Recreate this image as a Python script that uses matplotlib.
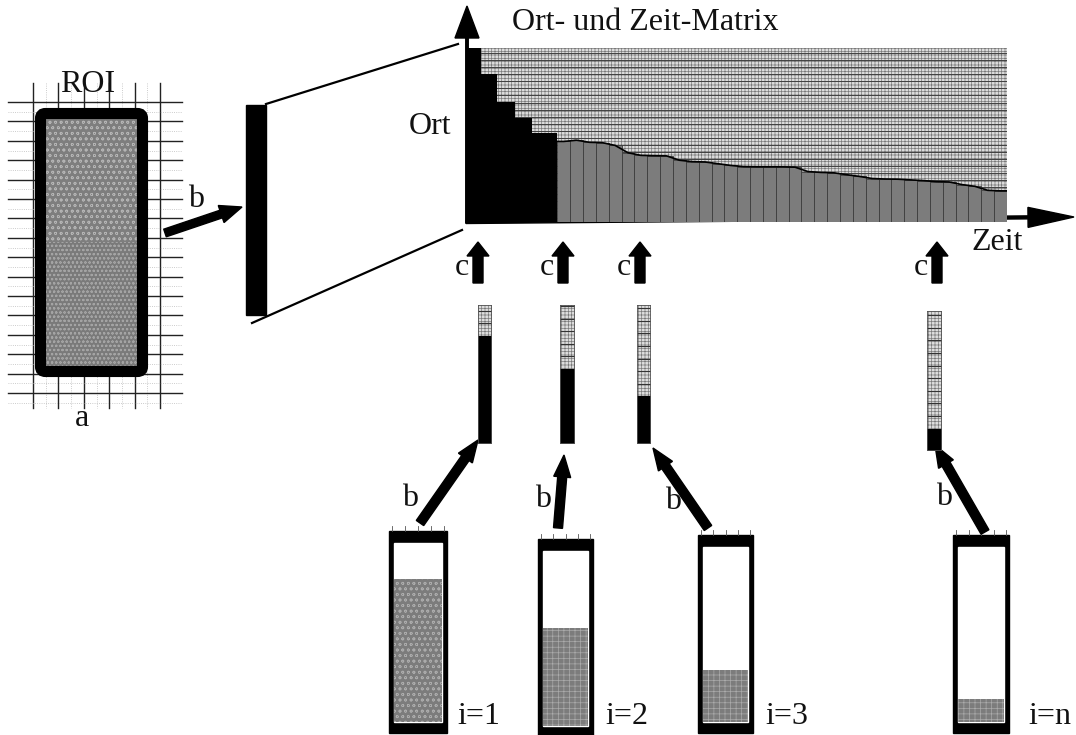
# Ort- und Zeit-Matrix diagram (ROI -> profile columns -> matrix)
import numpy as np
import matplotlib.pyplot as plt
from matplotlib.patches import Rectangle, FancyArrow, FancyBboxPatch

plt.rcParams['font.family'] = ['Liberation Serif', 'DejaVu Serif']
plt.rcParams['hatch.linewidth'] = 0.5

W, H = 1076, 735

# matrix: black staircase at the start, then grey time columns (fraction of Ort axis filled)
stair_widths = [1.17, 1.25, 1.41, 1.33, 1.95]
stair_levels = [1.0, 0.85, 0.69, 0.60, 0.51]
grey_levels = [0.463, 0.470, 0.458, 0.456, 0.440, 0.398, 0.383, 0.381, 0.380,
               0.355, 0.347, 0.345, 0.335, 0.325, 0.318, 0.317, 0.317, 0.317,
               0.315, 0.290, 0.285, 0.283, 0.272, 0.262, 0.250, 0.247, 0.246,
               0.242, 0.238, 0.232, 0.230, 0.215, 0.205, 0.182, 0.179]

# single profile columns (black part) and the tubes i=1..n (fill level)
column_levels = [0.78, 0.54, 0.345, 0.16]
tube_levels = [0.80, 0.56, 0.30, 0.13]
tube_labels = ['i=1', 'i=2', 'i=3', 'i=n']

# layout (pixel boxes x0, y0, x1, y1)
column_boxes = [(478, 305, 492, 444), (560, 305, 575, 444),
                (637, 305, 651, 444), (927, 311, 942, 451)]
tube_boxes = [(389, 531, 447, 733), (538, 539, 593, 737),
              (698, 535, 753, 733), (953, 535, 1009, 733)]
tube_label_x = [457, 605, 765, 1028]
b_arrows = [((420, 523), (478, 440)), ((558, 528), (564, 455)),
            ((708, 528), (653, 448)), ((985, 532), (935, 445))]
b_labels = [(410, 498), (543, 499), (673, 501), (944, 497)]
c_arrow_x = [478, 563, 640, 937]

fig = plt.figure(figsize=(W / 100, H / 100), dpi=100)
ax = fig.add_axes([0, 0, 1, 1])
ax.set_xlim(0, W)
ax.set_ylim(H, 0)
ax.axis('off')


def px_axes(x0, y0, x1, y1):
    a = fig.add_axes([x0 / W, 1 - y1 / H, (x1 - x0) / W, (y1 - y0) / H])
    a.set_xlim(0, 1)
    a.set_ylim(0, 1)
    a.axis('off')
    return a


def thick_arrow(p0, p1, width=9, head_width=19, head_length=20):
    ax.add_patch(FancyArrow(p0[0], p0[1], p1[0] - p0[0], p1[1] - p0[1],
                            width=width, head_width=head_width,
                            head_length=head_length, length_includes_head=True,
                            color='black', zorder=5))


txt = dict(fontsize=23, color='#111111', ha='center', va='center')

# ---- ROI on the grid (a)
for x in np.linspace(33, 160, 6):
    ax.plot([x, x], [83, 408], color='#222222', lw=1.0)
for x in np.linspace(33, 160, 6)[:-1] + 12.7:
    ax.plot([x, x], [83, 408], color='#bbbbbb', lw=0.6, ls=':')
for y in np.linspace(102, 393, 16):
    ax.plot([8, 182], [y, y], color='#222222', lw=1.0)
for y in np.linspace(102, 393, 16) + 9.7:
    ax.plot([8, 182], [y, y], color='#bbbbbb', lw=0.6, ls=':')

ax.add_patch(Rectangle((44, 118), 96, 124, facecolor='#7e7e7e',
                       edgecolor='#b4b4b4', hatch='ooo', lw=0, zorder=3))
ax.add_patch(Rectangle((44, 242), 96, 126, facecolor='#7a7a7a',
                       edgecolor='#a4a4a4', hatch='oooo', lw=0, zorder=3))
ax.add_patch(FancyBboxPatch((40.5, 113.5), 102, 258,
                            boxstyle='round,pad=0,rounding_size=5',
                            facecolor='none', edgecolor='black', lw=8, zorder=4))
ax.text(88, 84, 'ROI', **txt)
ax.text(82, 418, 'a', **txt)
thick_arrow((165, 233), (242, 207), width=8, head_width=18, head_length=22)
ax.text(196, 199, 'b', **txt)

# ---- projected profile column with perspective lines
ax.add_patch(Rectangle((246, 105), 20, 210, color='black'))
ax.plot([266, 458], [104, 44], color='black', lw=1.6)
ax.plot([252, 462], [323, 230], color='black', lw=1.6)
ax.text(430, 126, 'Ort', **txt)

# ---- Ort- und Zeit-Matrix
ax_m = fig.add_axes([466 / W, 1 - 222 / H, (1007 - 466) / W, (222 - 48) / H])
stair_left = np.concatenate([[0], np.cumsum(stair_widths)[:-1]])
grey_left = sum(stair_widths) + np.arange(len(grey_levels))
total = sum(stair_widths) + len(grey_levels)
ax_m.set_xlim(0, total)
ax_m.set_ylim(0, 1)
ax_m.axis('off')
ax_m.add_patch(Rectangle((0, 0), total, 1, facecolor='#dcdcdc',
                         edgecolor='#7a7a7a', hatch='+++++', lw=0))
ax_m.hlines(np.linspace(0.12, 0.97, 22), 0, total, color='#404040', lw=0.7)
ax_m.bar(stair_left, stair_levels, width=stair_widths, align='edge',
         color='black', zorder=3)
ax_m.bar(grey_left, grey_levels, width=1, align='edge', color='#7c7c7c',
         edgecolor='#3c3c3c', linewidth=0.6, zorder=3)
ax_m.plot(np.concatenate([[grey_left[0]], grey_left + 0.5, [total]]),
          [grey_levels[0]] + grey_levels + [grey_levels[-1]],
          color='black', lw=1.2, zorder=4)
ax_m.plot([total, total], [0, 1], color='#444444', lw=0.8)

# axes arrows of the matrix
thick_arrow((467, 223), (467, 6), width=2.5, head_width=24, head_length=32)
thick_arrow((466, 222), (1074, 217), width=3, head_width=20, head_length=46)
ax.text(645, 22, 'Ort- und Zeit-Matrix', **txt)
ax.text(997, 242, 'Zeit', **txt)

# ---- c arrows
for x in c_arrow_x:
    thick_arrow((x, 283), (x, 242), width=10, head_width=22, head_length=14)
    ax.text(x - 16, 267, 'c', **txt)

# ---- single profile columns
for (x0, y0, x1, y1), lev in zip(column_boxes, column_levels):
    a = px_axes(x0, y0, x1, y1)
    a.add_patch(Rectangle((0, 0), 1, 1, facecolor='#dddddd', edgecolor='#7a7a7a',
                          hatch='+++++', lw=0))
    a.hlines(np.arange(lev + 0.09, 1, 0.09), 0, 1, color='#333333', lw=0.8)
    a.bar(0.5, lev, width=1, color='black', zorder=3)
    a.add_patch(Rectangle((0, 0), 1, 1, facecolor='none', edgecolor='#555555',
                          lw=1.2, zorder=4))

# ---- b arrows from the tubes
for (p0, p1), (lx, ly) in zip(b_arrows, b_labels):
    thick_arrow(p0, p1, width=9, head_width=17, head_length=22)
    ax.text(lx, ly, 'b', **txt)

# ---- tubes i=1..n
for k, ((x0, y0, x1, y1), lev) in enumerate(zip(tube_boxes, tube_levels)):
    ax.add_patch(Rectangle((x0, y0), x1 - x0, y1 - y0, color='black', zorder=2))
    ax.add_patch(Rectangle((x0 + 5, y0 + 12), x1 - x0 - 10, y1 - y0 - 23,
                           color='white', zorder=2))
    for tx in np.linspace(x0 + 3, x1 - 3, 5):
        ax.plot([tx, tx], [y0 - 5, y0], color='#555555', lw=0.6)
    a = px_axes(x0 + 5, y0 + 12, x1 - 5, y1 - 11)
    a.bar(0.5, lev, width=1, color='#7c7c7c', edgecolor='#ababab',
          hatch='ooo' if k == 0 else '+++', lw=0)
    ax.text(tube_label_x[k], 716, tube_labels[k], fontsize=23, color='#111111',
            ha='left', va='center')

fig.savefig('out.png', dpi=100)
